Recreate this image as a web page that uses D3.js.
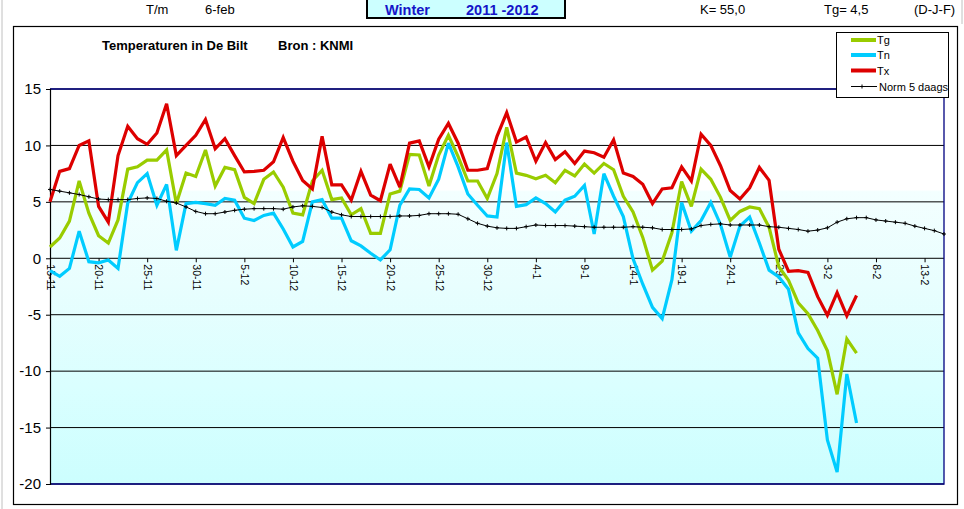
<!DOCTYPE html>
<html>
<head>
<meta charset="utf-8">
<script src="https://cdn.jsdelivr.net/npm/d3@7/dist/d3.min.js"></script>
<style>
  html, body { margin: 0; padding: 0; background: #fff; }
  svg { display: block; font-family: Arial, "Liberation Sans", sans-serif; }
</style>
</head>
<body>
<svg id="chart" width="964" height="509"></svg>
<script>
// ---------- DATA ----------
const startDate = new Date(2011, 10, 15);   // 15-11-2011
const nDays = 93;                            // 15-11 .. 15-2
const tickLabels = ["15-11","20-11","25-11","30-11","5-12","10-12","15-12","20-12","25-12","30-12",
                    "4-1","9-1","14-1","19-1","24-1","29-1","3-2","8-2","13-2"];
const yTicks = [15, 10, 5, 0, -5, -10, -15, -20];

const tx = [5.0,7.7,7.95,10.0,10.4,4.6,3.2,9.1,11.7,10.6,10.1,11.1,13.7,9.1,10.0,10.9,12.3,9.7,10.6,9.1,
            7.65,7.7,7.8,8.55,10.7,8.6,6.9,6.15,10.8,6.5,6.5,5.15,7.7,5.6,5.1,8.35,6.3,10.2,10.4,8.1,
            10.55,11.95,10.2,7.8,7.8,7.95,10.8,12.9,10.3,10.75,8.6,10.25,8.75,9.45,8.4,9.5,9.35,8.95,10.5,7.55,
            7.25,6.55,4.85,6.15,6.25,8.1,6.85,11.0,10.0,8.2,6.0,5.25,6.25,8.05,6.9,0.8,-1.15,-1.1,-1.25,-3.4,
            -5.05,-3.05,-5.1,-3.3];
const tg = [1.0,1.8,3.3,6.85,4.0,2.0,1.35,3.4,7.9,8.1,8.7,8.7,9.6,4.85,7.55,7.25,9.6,6.4,8.05,7.85,
            5.4,4.85,7.0,7.65,6.3,4.0,3.85,6.85,7.8,5.2,5.35,3.85,4.4,2.2,2.2,5.7,5.95,9.2,9.15,6.4,
            9.15,10.9,9.0,6.85,6.85,5.3,7.5,11.6,7.55,7.35,7.05,7.35,6.7,7.8,7.3,8.35,7.55,8.4,7.85,5.5,
            4.1,1.85,-1.05,-0.25,2.25,6.8,4.6,7.9,7.0,5.4,3.35,4.15,4.55,4.4,2.75,-0.75,-1.95,-3.95,-4.9,-6.4,
            -8.2,-12.05,-7.15,-8.4];
const tn = [-1.1,-1.6,-0.9,2.4,-0.3,-0.4,-0.15,-0.9,4.9,6.7,7.5,4.7,6.55,0.7,4.85,4.95,4.85,4.7,5.3,5.15,
            3.55,3.35,3.8,4.0,2.6,1.0,1.5,5.0,5.2,3.55,3.55,1.55,1.1,0.45,-0.15,0.75,4.7,6.15,6.1,5.35,
            7.0,10.2,8.1,5.7,4.7,3.75,3.65,10.25,4.6,4.75,5.35,4.85,4.1,5.15,5.5,6.45,2.15,7.5,5.5,3.7,
            -0.05,-2.3,-4.35,-5.35,-1.9,4.95,2.4,3.35,4.95,3.0,0.1,2.85,3.65,1.35,-1.05,-1.65,-2.75,-6.6,-8.0,-8.85,
            -16.1,-18.95,-10.25,-14.6];
const norm5 = [6.1,5.95,5.8,5.65,5.45,5.25,5.2,5.2,5.2,5.3,5.35,5.3,5.05,4.9,4.55,4.15,3.95,3.95,4.1,4.25,
               4.35,4.4,4.4,4.4,4.35,4.55,4.65,4.6,4.5,4.1,3.85,3.7,3.7,3.7,3.7,3.7,3.75,3.75,3.8,3.95,
               3.95,3.95,3.9,3.5,3.1,2.85,2.7,2.65,2.65,2.8,2.95,2.9,2.9,2.9,2.85,2.8,2.75,2.75,2.75,2.75,
               2.8,2.75,2.7,2.55,2.55,2.55,2.6,2.9,3.0,3.05,2.95,2.95,2.95,2.95,2.8,2.75,2.65,2.55,2.4,2.5,
               2.7,3.2,3.5,3.6,3.6,3.4,3.3,3.2,3.1,2.85,2.65,2.45,2.15];

const seriesNames = ["Tg", "Tn", "Tx", "Norm 5 daags"];
const seriesColors = ["#99cc00", "#00ccff", "#dd0000", "#000000"];

// ---------- SETUP ----------
const fmt = d => d.getDate() + "-" + (d.getMonth() + 1);
const categories = d3.range(nDays).map(i => fmt(d3.timeDay.offset(startDate, i)));

const svg = d3.select("#chart");
const plot = { left: 50, right: 944, top: 89, bottom: 484 };

const x = d3.scaleLinear().domain([0, nDays - 1]).range([plot.left, plot.right]);
const y = d3.scaleLinear().domain([-20, 15]).range([plot.bottom, plot.top]);

// side spreadsheet lines
svg.append("line").attr("x1", 2).attr("x2", 2).attr("y1", 0).attr("y2", 509)
   .attr("stroke", "#c0c0c0").attr("stroke-width", 1);
svg.append("line").attr("x1", 962).attr("x2", 962).attr("y1", 0).attr("y2", 24)
   .attr("stroke", "#c0c0c0").attr("stroke-width", 1);

// ---------- HEADER ----------
svg.append("rect").attr("x", 367).attr("y", -2).attr("width", 198).attr("height", 20)
   .attr("fill", "#ccffff").attr("stroke", "#000").attr("stroke-width", 2);
const hdr = svg.append("g").attr("font-size", 13).attr("fill", "#000");
hdr.append("text").attr("x", 146).attr("y", 14).text("T/m");
hdr.append("text").attr("x", 205).attr("y", 14).text("6-feb");
hdr.append("text").attr("x", 385).attr("y", 14.5).attr("font-size", 14.5).attr("font-weight", "bold").attr("fill", "#1515c8").text("Winter");
hdr.append("text").attr("x", 466).attr("y", 14.5).attr("font-size", 14.5).attr("font-weight", "bold").attr("fill", "#1515c8").text("2011 -2012");
hdr.append("text").attr("x", 700).attr("y", 14).text("K=  55,0");
hdr.append("text").attr("x", 824).attr("y", 14).text("Tg=  4,5");
hdr.append("text").attr("x", 914).attr("y", 14).text("(D-J-F)");

// ---------- FRAME ----------
svg.append("rect").attr("x", 13.5).attr("y", 26.5).attr("width", 944).attr("height", 478)
   .attr("fill", "#fff").attr("stroke", "#000").attr("stroke-width", 1.2);

// plot background gradient
const defs = svg.append("defs");
const grad = defs.append("linearGradient").attr("id", "bg").attr("x1", 0).attr("y1", 0).attr("x2", 0).attr("y2", 1);
[[0, "#ffffff"], [0.255, "#ffffff"], [0.26, "#f3ffff"], [0.5, "#e8fefe"], [0.75, "#daffff"], [1, "#ccfefe"]]
  .forEach(([o, c]) => grad.append("stop").attr("offset", o).attr("stop-color", c));
svg.append("rect").attr("x", plot.left).attr("y", plot.top)
   .attr("width", plot.right - plot.left).attr("height", plot.bottom - plot.top)
   .attr("fill", "url(#bg)");

// gridlines
svg.append("g").selectAll("line").data(yTicks).join("line")
   .attr("x1", plot.left).attr("x2", plot.right)
   .attr("y1", d => y(d)).attr("y2", d => y(d))
   .attr("stroke", "#000").attr("stroke-width", 1);

// plot border (top, right, bottom in navy)
svg.append("path")
   .attr("d", `M${plot.left},${plot.top}H${plot.right}V${plot.bottom}H${plot.left}`)
   .attr("fill", "none").attr("stroke", "#000080").attr("stroke-width", 1.3);

// y axis
const yAxis = d3.axisLeft(y).tickValues(yTicks).tickSize(4).tickPadding(5).tickFormat(d3.format("d"));
const gy = svg.append("g").attr("transform", `translate(${plot.left},0)`).call(yAxis);
gy.select(".domain").attr("stroke", "#000").attr("stroke-width", 1.2);
gy.selectAll(".tick line").attr("stroke", "#000");
gy.selectAll(".tick text").attr("font-size", 15).attr("font-family", "Arial, 'Liberation Sans', sans-serif")
  .attr("fill", "#000").attr("x", -9).text(d => String(d));

// x axis at y = 0
const tickIdx = tickLabels.map(l => categories.indexOf(l));
const xAxis = d3.axisBottom(x).tickValues(tickIdx).tickSize(4).tickFormat((d, i) => tickLabels[i]);
const gx = svg.append("g").attr("transform", `translate(0,${y(0)})`).call(xAxis);
gx.select(".domain").remove();
gx.selectAll(".tick line").attr("stroke", "#000");
gx.selectAll(".tick text")
  .attr("font-size", 10.5).attr("font-family", "Arial, 'Liberation Sans', sans-serif").attr("fill", "#000")
  .attr("transform", "rotate(90)").attr("x", 6).attr("y", 0).attr("dy", "0.35em")
  .attr("text-anchor", "start");

// ---------- LINES ----------
const line = d3.line().x((d, i) => x(i)).y(d => y(d));
const lines = [[tg, 0], [tn, 1], [tx, 2]];
lines.forEach(([data, k]) => {
  svg.append("path").datum(data).attr("d", line)
     .attr("fill", "none").attr("stroke", seriesColors[k]).attr("stroke-width", 3.2)
     .attr("stroke-linejoin", "miter").attr("stroke-miterlimit", 3);
});
svg.append("path").datum(norm5).attr("d", line)
   .attr("fill", "none").attr("stroke", "#000").attr("stroke-width", 1);
svg.append("g").selectAll("path").data(norm5).join("path")
   .attr("d", (d, i) => `M${x(i) - 2},${y(d)}h4M${x(i)},${y(d) - 2}v4`)
   .attr("stroke", "#000").attr("stroke-width", 1);

// ---------- TITLE ----------
svg.append("text").attr("x", 102).attr("y", 49.5).attr("font-size", 13).attr("font-weight", "bold")
   .text("Temperaturen in De Bilt");
svg.append("text").attr("x", 278).attr("y", 49.5).attr("font-size", 13).attr("font-weight", "bold")
   .text("Bron : KNMI");

// ---------- LEGEND ----------
const lg = svg.append("g");
lg.append("rect").attr("x", 836.5).attr("y", 32.5).attr("width", 112).attr("height", 65)
  .attr("fill", "#fff").attr("stroke", "#000").attr("stroke-width", 1);
const rowsY = [40, 55, 70.5, 86.5];
seriesNames.forEach((name, k) => {
  const yy = rowsY[k];
  if (k < 3) {
    lg.append("line").attr("x1", 851).attr("x2", 876).attr("y1", yy).attr("y2", yy)
      .attr("stroke", seriesColors[k]).attr("stroke-width", 4);
  } else {
    lg.append("line").attr("x1", 851).attr("x2", 877).attr("y1", yy).attr("y2", yy)
      .attr("stroke", "#000").attr("stroke-width", 1);
    lg.append("path").attr("d", `M${862},${yy - 2}v4`).attr("stroke", "#000");
  }
  lg.append("text").attr("x", k < 3 ? 877 : 879).attr("y", yy + 4).attr("font-size", 11).text(name);
});
</script>
</body>
</html>
